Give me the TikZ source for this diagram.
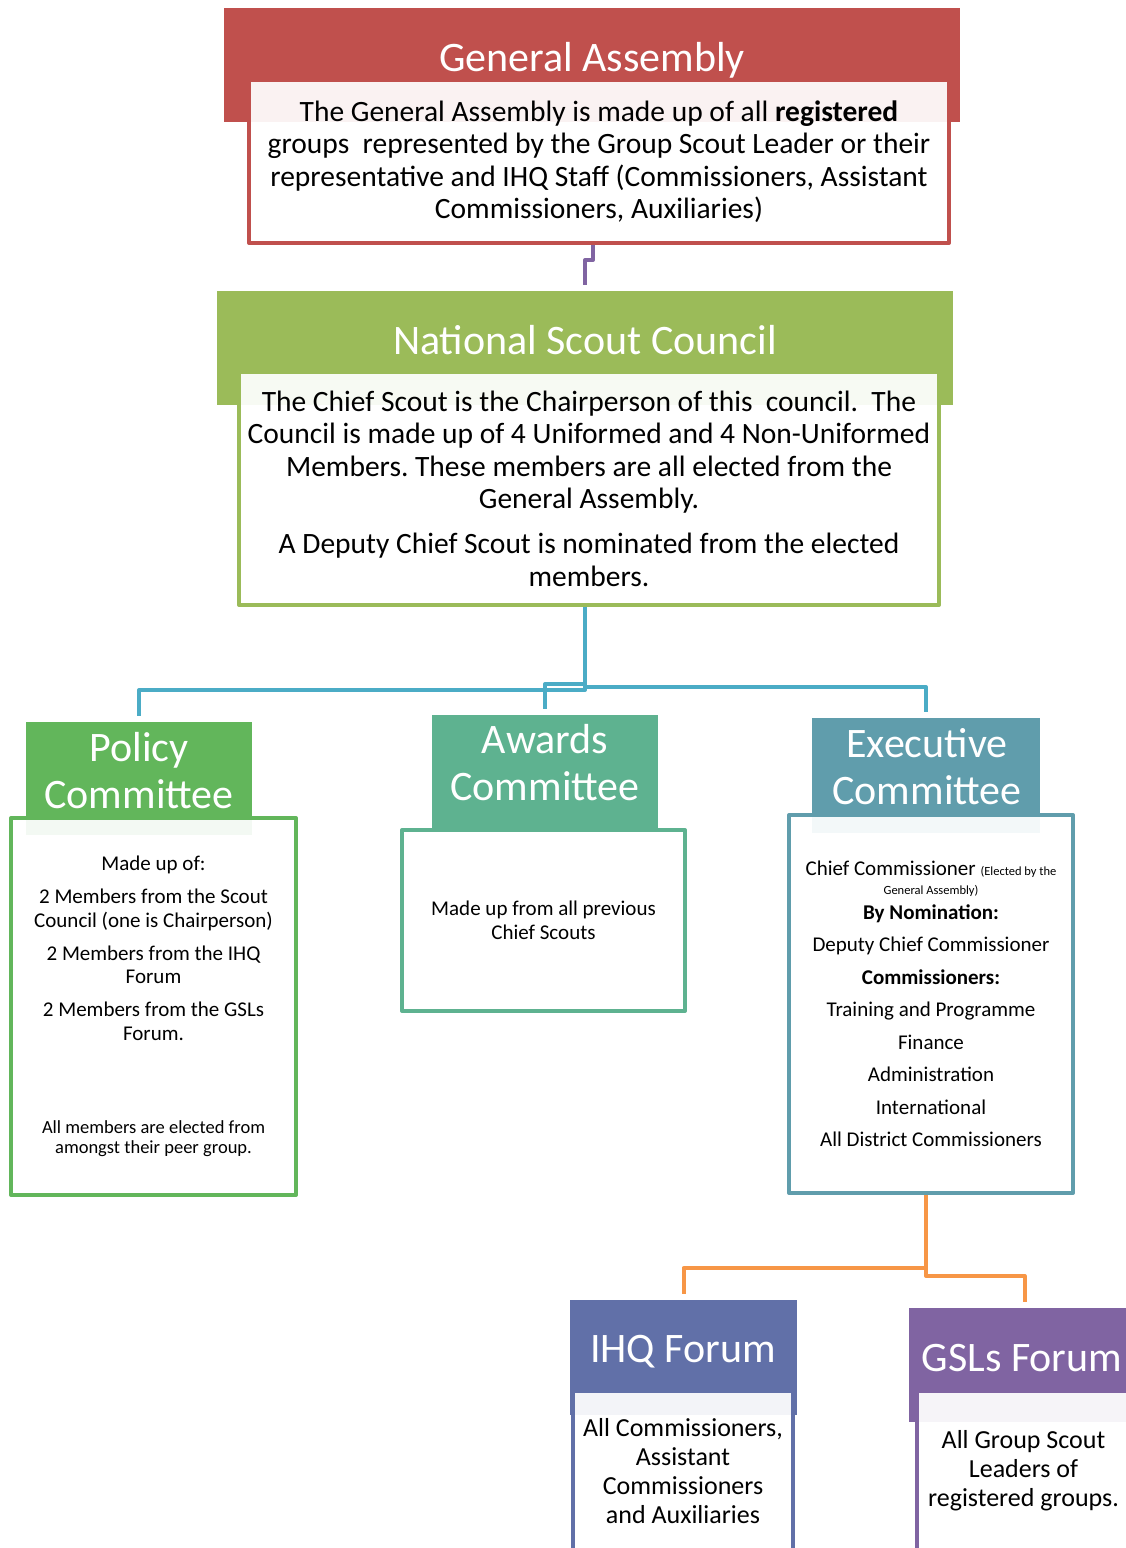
\documentclass[tikz,border=0pt]{standalone}
\usepackage{fontspec}
\setmainfont{Carlito}
\usepackage{xcolor}
\definecolor{ColGA}{RGB}{192,80,77}
\definecolor{ColNSC}{RGB}{155,187,89}
\definecolor{ColBlue}{RGB}{75,172,198}
\definecolor{ColPol}{RGB}{98,182,91}
\definecolor{ColAw}{RGB}{94,178,144}
\definecolor{ColEx}{RGB}{96,157,172}
\definecolor{ColOr}{RGB}{247,150,70}
\definecolor{ColIHQ}{RGB}{97,112,168}
\definecolor{ColGSL}{RGB}{128,100,162}
\usepackage{tikz}
\frenchspacing
\newcommand{\SmallNote}{\fontsize{18.5}{20}\selectfont}
\newcommand{\TinyNote}{\fontsize{12.5}{14}\selectfont}
\tikzstyle{Head}=[rectangle,inner sep=0pt,draw=none]
\tikzstyle{HeadST}=[text=white,align=center,inner sep=0pt,
font=\fontsize{42}{47}\selectfont]
\tikzstyle{Body}=[rectangle,fill=white,fill opacity=.93,text opacity=1,
line width=4pt,line join=round,inner sep=0pt,align=flush center]
\tikzstyle{BigST}=[font=\fontsize{29.5}{32.5}\selectfont]
\tikzstyle{MidST}=[font=\fontsize{21}{23.5}\selectfont]
\tikzstyle{ForumST}=[font=\fontsize{26}{29}\selectfont]
\tikzstyle{Edge}=[line width=4pt,line join=round]

\begin{document}
\begin{tikzpicture}[x=1pt,y=-1pt]
    \useasboundingbox(0,0)rectangle(1126,1548);
    \clip(0,0)rectangle(1126,1548);
    \node[Head,fill=ColGA,minimum width=736pt,minimum height=114pt](GAh)at(592,65){};
    \node[Head,fill=ColNSC,minimum width=736pt,minimum height=114pt](NSCh)at(585,348){};
    \node[Head,fill=ColPol,minimum width=226pt,minimum height=113pt](PCh)at(139,778.5){};
    \node[Head,fill=ColAw,minimum width=226pt,minimum height=115pt](ACh)at(545,772.5){};
    \node[Head,fill=ColEx,minimum width=228pt,minimum height=115pt](ECh)at(926,775.5){};
    \node[Head,fill=ColIHQ,minimum width=227pt,minimum height=115pt](IHQh)at(683.5,1357.5){};
    \node[Head,fill=ColGSL,minimum width=231pt,minimum height=114pt](GSLh)at(1024.5,1365){};
    \node[Body,BigST,draw=ColGA,minimum width=700pt,minimum height=163pt](GAb)at(599,161.5){
        The General Assembly is made up of all \textbf{registered}\\
        groups~ represented by the Group Scout Leader or their\\
        representative and IHQ Staff (Commissioners, Assistant\\
        Commissioners, Auxiliaries)};
    \node[Body,BigST,draw=ColNSC,minimum width=700pt,minimum height=233pt](NSCb)at(589,488.5){
        The Chief Scout is the Chairperson of this~ council.~ The\\
        Council is made up of 4 Uniformed and 4 Non-Uniformed\\
        Members. These members are all elected from the\\
        General Assembly.\\[12.5pt]
        A Deputy Chief Scout is nominated from the elected\\
        members.};
    \node[Body,MidST,draw=ColPol,minimum width=285pt,minimum height=377pt,text width=280pt]
        (PCb)at(153.5,1006.5){
        Made up of:\\[9.5pt]
        2 Members from the Scout\\Council (one is Chairperson)\\[9.5pt]
        2 Members from the IHQ\\Forum\\[9.5pt]
        2 Members from the GSLs\\Forum.\\[73pt]
        {\SmallNote All members are elected from\\amongst their peer group.\par}};
    \node[Body,MidST,draw=ColAw,minimum width=283pt,minimum height=181pt](ACb)at(543.5,920.5){
        Made up from all previous\\Chief Scouts};
    \node[Body,MidST,draw=ColEx,minimum width=284pt,minimum height=378pt,text width=280pt]
        (ECb)at(931,1004){
        Chief Commissioner {\TinyNote (Elected by the}\\[-4.5pt]
        {\TinyNote General Assembly)}\\[1.5pt]
        \textbf{By Nomination:}\\[9pt]
        Deputy Chief Commissioner\\[9pt]
        \textbf{Commissioners:}\\[9pt]
        Training and Programme\\[9pt]
        Finance\\[9pt]
        Administration\\[9pt]
        International\\[9pt]
        All District Commissioners};
    \node[Body,ForumST,draw=ColIHQ,minimum width=220pt,minimum height=160pt](IHQb)at(683,1471){
        All Commissioners,\\Assistant\\Commissioners\\and Auxiliaries};
    \node[Body,ForumST,draw=ColGSL,minimum width=213pt,minimum height=160pt](GSLb)at(1023.5,1471){
        All Group Scout\\Leaders of\\registered groups.};
    \node[HeadST](GAt)at(592,60){General Assembly};
    \node[HeadST](NSCt)at(585,340){National Scout Council};
    \node[HeadST](PCt)at(139,771){Policy\\Committee};
    \node[HeadST](ACt)at(545,763){Awards\\Committee};
    \node[HeadST](ECt)at(927,767){Executive\\Committee};
    \node[HeadST](IHQt)at(683,1352){IHQ Forum};
    \node[HeadST](GSLt)at(1022,1358){GSLs Forum};
    % links
    \coordinate(j1)at(585,260);
    \coordinate(j2)at(585,687);
    \coordinate(j3)at(926,1268);
    \draw[Edge,draw=ColGSL]([xshift=-6pt]GAb.south)|-(j1)--([yshift=6pt]NSCh.north);
    \draw[Edge,draw=ColBlue](NSCh|-NSCb.south)--(j2);
    \draw[Edge,draw=ColBlue](j2)--++(0,3)-|([yshift=6pt]PCh.north);
    \draw[Edge,draw=ColBlue](j2)--++(0,-3)-|([yshift=6pt]ACh.north);
    \draw[Edge,draw=ColBlue](j2)-|([yshift=6pt]ECh.north);
    \draw[Edge,draw=ColOr](ECh|-ECb.south)--(j3);
    \draw[Edge,draw=ColOr](j3)-|([yshift=6pt]IHQh.north);
    \draw[Edge,draw=ColOr](j3)--++(0,8)-|([yshift=6pt]GSLh.north);
\end{tikzpicture}
\end{document}
